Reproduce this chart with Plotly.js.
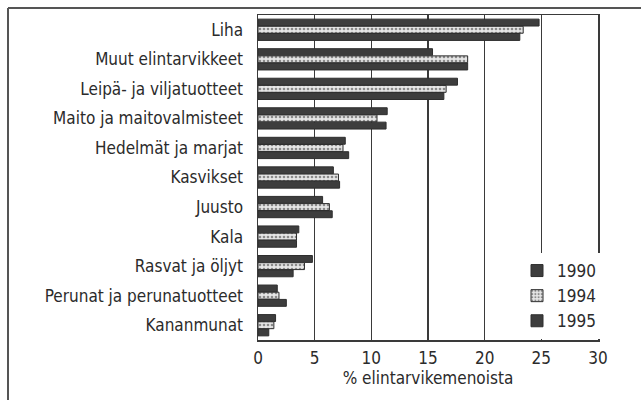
<!DOCTYPE html>
<html>
<head>
<meta charset="utf-8">
<script src="https://cdn.plot.ly/plotly-3.0.1.min.js"></script>
<style>html,body{margin:0;padding:0;background:#fff;}#chart{width:641px;height:400px;}</style>
</head>
<body>
<div id="chart"></div>
<script>
const categories = ["Liha", "Muut elintarvikkeet", "Leipä- ja viljatuotteet", "Maito ja maitovalmisteet",
  "Hedelmät ja marjat", "Kasvikset", "Juusto", "Kala", "Rasvat ja öljyt",
  "Perunat ja perunatuotteet", "Kananmunat"];
const years = ["1990", "1994", "1995"];
const v1990 = [24.8, 15.4, 17.6, 11.4, 7.7, 6.65, 5.7, 3.6, 4.8, 1.7, 1.55];
const v1994 = [23.4, 18.5, 16.6, 10.5, 7.5, 7.1, 6.3, 3.4, 4.1, 1.85, 1.4];
const v1995 = [23.1, 18.5, 16.4, 11.3, 8.0, 7.2, 6.55, 3.4, 3.1, 2.5, 0.95];
const xTicks = [0, 5, 10, 15, 20, 25, 30];
const xTitle = "% elintarvikemenoista";

const FONT = "DejaVu Sans Condensed, Liberation Sans Narrow, sans-serif";
const FS = 17;
const TXT = "#2b2b2b";
const dark = {color: "#3d3d3d", line: {color: "#2e2e2e", width: 1}};
const light = {color: "#e4e4e4", line: {color: "#2e2e2e", width: 1},
  pattern: {shape: ".", fgcolor: "#8a8a8a", bgcolor: "#e6e6e6", size: 4, solidity: 0.35}};

const traces = [
  {type: "bar", orientation: "h", name: years[0], y: categories, x: v1990, marker: dark},
  {type: "bar", orientation: "h", name: years[1], y: categories, x: v1994, marker: light},
  {type: "bar", orientation: "h", name: years[2], y: categories, x: v1995, marker: dark}
];

const W = 641, H = 400, L = 258, R = 43, T = 15, B = 60;
const pw = W - L - R, ph = H - T - B;
const px = x => (x - L) / pw;
const py = y => (H - B - y) / ph;

const layout = {
  width: W, height: H,
  margin: {l: L, r: R, t: T, b: B, pad: 0},
  paper_bgcolor: "#fff", plot_bgcolor: "#fff",
  font: {family: FONT, size: FS, color: TXT},
  barmode: "group", bargap: 0.27, bargroupgap: 0.04,
  showlegend: true,
  legend: {x: px(517), y: py(253), xanchor: "left", yanchor: "top",
    bgcolor: "#fff", borderwidth: 0, font: {family: FONT, size: FS, color: TXT},
    tracegroupgap: 0},
  xaxis: {range: [0, 30], tickvals: xTicks, ticktext: xTicks.map(String),
    showgrid: true, gridcolor: "#3a3a3a", gridwidth: 1.5,
    showline: true, linecolor: "#3a3a3a", linewidth: 1.5, mirror: true,
    ticks: "", zeroline: false, ticklabelstandoff: 2,
    tickfont: {family: FONT, size: FS, color: TXT},
    title: {text: xTitle, font: {family: FONT, size: FS, color: TXT}, standoff: 4}},
  yaxis: {autorange: "reversed", type: "category",
    showgrid: false, showline: true, linecolor: "#3a3a3a", linewidth: 1.5, mirror: true,
    ticks: "", ticklabelstandoff: 10,
    tickfont: {family: FONT, size: FS, color: TXT}},
  shapes: [
    {type: "line", xref: "paper", yref: "paper", x0: px(8), x1: px(641), y0: py(8), y1: py(8),
      line: {color: "#555", width: 2}},
    {type: "line", xref: "paper", yref: "paper", x0: px(8), x1: px(8), y0: py(8), y1: py(400),
      line: {color: "#555", width: 2}}
  ]
};

Plotly.newPlot("chart", traces, layout, {displayModeBar: false, staticPlot: true});
</script>
</body>
</html>
